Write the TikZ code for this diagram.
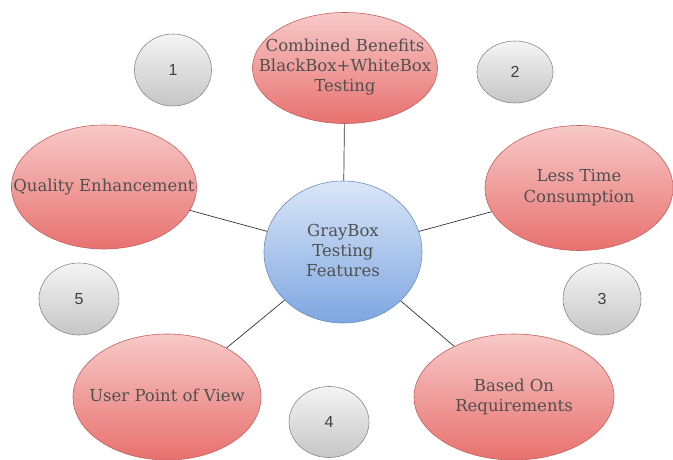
\documentclass[tikz,border=0pt]{standalone}
\usepackage{fontspec}
\setmainfont{DejaVu Serif}
\newfontfamily\numfont{Liberation Sans}
\usetikzlibrary{shapes.geometric}
\definecolor{txt}{HTML}{505050}
\definecolor{redtop}{HTML}{F7C9C8}
\definecolor{redbot}{HTML}{E8716E}
\definecolor{redline}{HTML}{C4615E}
\definecolor{bluetop}{HTML}{DAE6F8}
\definecolor{bluebot}{HTML}{7EA6E0}
\definecolor{blueline}{HTML}{6C8EBF}
\definecolor{graytop}{HTML}{F4F4F4}
\definecolor{graybot}{HTML}{C6C6C6}
\definecolor{grayline}{HTML}{8A8A8A}
\newcommand{\ctext}[1]{\makebox[0pt][c]{\begin{tabular}{@{}c@{}}#1\end{tabular}}}
\tikzset{
  feat/.style={ellipse, draw=redline, line width=0.6pt, top color=redtop, bottom color=redbot,
    inner sep=0pt, text=txt, font=\fontsize{16.5}{20}\selectfont},
  hub/.style={ellipse, draw=blueline, line width=0.6pt, top color=bluetop, bottom color=bluebot,
    inner sep=0pt, text=txt, font=\fontsize{16.5}{20}\selectfont},
  num/.style={ellipse, draw=grayline, line width=0.6pt, top color=graytop, bottom color=graybot,
    inner sep=0pt, text=black!75, font=\numfont\fontsize{16}{18}\selectfont},
  link/.style={draw=black!80, line width=0.7pt}
}
\begin{document}
\begin{tikzpicture}[x=1pt,y=-1pt]
\useasboundingbox (0,0) rectangle (673,460);
\node[hub, minimum width=158pt, minimum height=142pt] (hub) at (343,252)
  {\ctext{GrayBox\\Testing\\Features}};
\node[feat, minimum width=185pt, minimum height=111pt] (cb) at (345,68)
  {\ctext{Combined Benefits\\BlackBox+WhiteBox\\Testing}};
\node[feat, minimum width=185pt, minimum height=124pt] (qe) at (104,187)
  {\ctext{Quality Enhancement}};
\node[feat, minimum width=188pt, minimum height=125pt] (lt) at (579,188)
  {\ctext{Less Time\\Consumption}};
\node[feat, minimum width=200pt, minimum height=126pt] (br) at (514,397)
  {\ctext{Based On\\Requirements}};
\node[feat, minimum width=188pt, minimum height=126pt] (up) at (167,397)
  {\ctext{User Point of View}};
\node[num, minimum width=77pt, minimum height=72pt] (n1) at (173,70) {1};
\node[num, minimum width=76pt, minimum height=62pt] (n2) at (515,72) {2};
\node[num, minimum width=78pt, minimum height=72pt] (n3) at (602,299) {3};
\node[num, minimum width=80pt, minimum height=71pt] (n4) at (329,422) {4};
\node[num, minimum width=80pt, minimum height=72pt] (n5) at (79,299) {5};
\draw[link] (hub) -- (cb);
\draw[link] (hub) -- (qe);
\draw[link] (hub) -- (lt);
\draw[link] (hub) -- (br);
\draw[link] (hub) -- (up);
\end{tikzpicture}
\end{document}
